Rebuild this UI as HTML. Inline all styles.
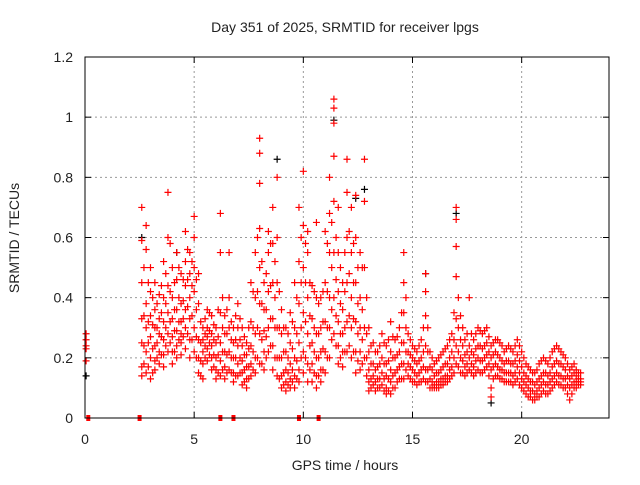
<!DOCTYPE html>
<html><head><meta charset="utf-8"><style>
body{margin:0;background:#fff}
svg text{font-family:"Liberation Sans",sans-serif;fill:#222}
</style></head><body>
<svg width="640" height="480">
<rect width="640" height="480" fill="#fff"/>
<text x="345" y="32" font-size="14" text-anchor="middle">Day 351 of 2025, SRMTID for receiver lpgs</text>
<text transform="translate(19,238) rotate(-90)" font-size="14" text-anchor="middle">SRMTID / TECUs</text>
<text x="345" y="470" font-size="14" text-anchor="middle">GPS time / hours</text>
<g id="grid"></g>
<g id="blk"></g>
<g id="red"></g>
<g id="zeros"></g>
<rect x="85" y="57" width="524" height="361" fill="none" stroke="#000" stroke-width="1"/>
<g id="axes"></g>
</svg>
<script>
const xTicks=[0,5,10,15,20];
const yTicks=[0,0.2,0.4,0.6,0.8,1,1.2];
const yTickLabels=["0","0.2","0.4","0.6","0.8","1","1.2"];
const times=[0.05,2.6,2.8,3.0,3.2,3.4,3.6,3.8,4.0,4.2,4.4,4.6,4.8,5.0,5.2,5.4,5.6,5.8,6.0,6.2,6.4,6.6,6.8,7.0,7.2,7.4,7.6,7.8,8.0,8.2,8.4,8.6,8.8,9.0,9.2,9.4,9.6,9.8,10.0,10.2,10.4,10.6,10.8,11.0,11.2,11.4,11.6,11.8,12.0,12.2,12.4,12.6,12.8,13.0,13.2,13.4,13.6,13.8,14.0,14.2,14.4,14.6,14.8,15.0,15.2,15.4,15.6,15.8,16.0,16.2,16.4,16.6,16.8,17.0,17.2,17.4,17.6,17.8,18.0,18.2,18.4,18.6,18.8,19.0,19.2,19.4,19.6,19.8,20.0,20.2,20.4,20.6,20.8,21.0,21.2,21.4,21.6,21.8,22.0,22.2,22.4,22.6];
const values=[[0.28,0.26,0.24,0.23,0.19],[0.70,0.59,0.45,0.33,0.25,0.17,0.14],[0.64,0.56,0.38,0.30,0.22,0.15],[0.50,0.42,0.34,0.27,0.20,0.13],[0.45,0.36,0.30,0.24,0.19,0.16],[0.41,0.33,0.28,0.22,0.18],[0.52,0.40,0.32,0.26,0.21,0.17],[0.75,0.60,0.44,0.35,0.28,0.22],[0.50,0.40,0.33,0.27,0.22,0.18],[0.55,0.46,0.36,0.29,0.24,0.20],[0.48,0.38,0.32,0.28,0.25,0.21],[0.62,0.52,0.44,0.36,0.30,0.23],[0.55,0.48,0.40,0.33,0.26,0.20],[0.67,0.60,0.50,0.42,0.30,0.22],[0.48,0.38,0.26,0.20,0.15],[0.30,0.26,0.22,0.18,0.13],[0.36,0.30,0.27,0.23,0.19],[0.34,0.28,0.24,0.20,0.16],[0.30,0.25,0.20,0.16,0.13],[0.68,0.55,0.35,0.25,0.19,0.14],[0.34,0.28,0.22,0.17,0.13],[0.55,0.40,0.30,0.22,0.16],[0.30,0.25,0.20,0.15,0.12],[0.38,0.30,0.24,0.18,0.14],[0.30,0.24,0.19,0.15,0.11],[0.25,0.21,0.17,0.13,0.10],[0.45,0.32,0.24,0.18,0.14],[0.55,0.40,0.28,0.20,0.15],[0.93,0.88,0.78,0.63,0.50,0.38,0.28,0.18],[0.45,0.36,0.29,0.22,0.16],[0.62,0.55,0.42,0.30,0.22],[0.70,0.58,0.45,0.33,0.24,0.16],[0.80,0.60,0.45,0.30,0.20,0.14],[0.36,0.28,0.20,0.14,0.10],[0.30,0.22,0.16,0.12,0.09],[0.35,0.25,0.18,0.13,0.10],[0.45,0.30,0.20,0.14,0.10],[0.70,0.52,0.38,0.25,0.16,0.12],[0.82,0.64,0.50,0.35,0.22,0.15],[0.62,0.55,0.40,0.28,0.18,0.12],[0.44,0.33,0.25,0.18,0.12],[0.65,0.40,0.28,0.20,0.14,0.10],[0.40,0.30,0.22,0.16,0.12],[0.62,0.45,0.32,0.22,0.15],[0.80,0.68,0.55,0.40,0.30,0.20],[1.06,1.03,0.98,0.87,0.72,0.55,0.40,0.28],[0.70,0.55,0.42,0.32,0.24,0.18],[0.45,0.36,0.28,0.22,0.17],[0.86,0.75,0.60,0.45,0.32,0.22],[0.70,0.55,0.40,0.30,0.20],[0.74,0.60,0.45,0.32,0.22,0.15],[0.55,0.40,0.30,0.22,0.16],[0.86,0.72,0.50,0.30,0.20],[0.30,0.22,0.16,0.12,0.09],[0.25,0.18,0.14,0.11],[0.22,0.17,0.13,0.10],[0.28,0.20,0.15,0.11],[0.24,0.18,0.14,0.10,0.08],[0.32,0.22,0.16,0.12,0.08],[0.26,0.20,0.15,0.10],[0.30,0.22,0.17,0.13],[0.55,0.45,0.35,0.25,0.18,0.13],[0.28,0.22,0.18,0.14],[0.24,0.20,0.16,0.12],[0.22,0.18,0.14,0.11],[0.26,0.20,0.16,0.12],[0.48,0.42,0.34,0.24,0.16,0.12],[0.22,0.17,0.13,0.10],[0.18,0.14,0.11,0.10],[0.20,0.15,0.12,0.10],[0.22,0.17,0.13,0.11],[0.24,0.18,0.14,0.12],[0.28,0.22,0.17,0.14],[0.70,0.66,0.57,0.47,0.33,0.24,0.18],[0.34,0.26,0.20,0.15],[0.26,0.21,0.17,0.14],[0.40,0.24,0.20,0.16],[0.26,0.21,0.17,0.14],[0.30,0.24,0.20,0.16],[0.28,0.23,0.19,0.15],[0.30,0.25,0.21,0.17],[0.24,0.20,0.16,0.10,0.07],[0.26,0.22,0.18,0.14],[0.25,0.20,0.16,0.13],[0.22,0.18,0.15,0.12],[0.24,0.19,0.15,0.12],[0.22,0.18,0.14,0.11],[0.26,0.21,0.17,0.13],[0.22,0.17,0.13,0.10],[0.18,0.14,0.11,0.08],[0.16,0.12,0.09,0.07],[0.15,0.11,0.08,0.06],[0.18,0.13,0.10,0.07],[0.20,0.15,0.12,0.09],[0.18,0.14,0.11,0.08],[0.22,0.17,0.13,0.10],[0.24,0.19,0.15,0.12],[0.22,0.18,0.14,0.11],[0.20,0.16,0.13,0.10],[0.16,0.13,0.10,0.06],[0.18,0.15,0.12,0.10],[0.15,0.13,0.12,0.11]];
const times2=[2.7,2.9,3.1,3.3,3.5,3.7,3.9,4.1,4.3,4.5,4.7,4.9,5.1,5.3,5.5,5.7,5.9,6.1,6.3,6.5,6.7,6.9,7.1,7.3,7.5,7.7,7.9,8.1,8.3,8.5,8.7,8.9,9.1,9.3,9.5,9.7,9.9,10.1,10.3,10.5,10.7,10.9,11.1,11.3,11.5,11.7,11.9,12.1,12.3,12.5,12.7,12.9,13.1,13.3,13.5,13.7,13.9,14.1,14.3,14.5,14.7,14.9,15.1,15.3,15.5,15.7,15.9,16.1,16.3,16.5,16.7,16.9,17.1,17.3,17.5,17.7,17.9,18.1,18.3,18.5,18.7,18.9,19.1,19.3,19.5,19.7,19.9,20.1,20.3,20.5,20.7,20.9,21.1,21.3,21.5,21.7,21.9,22.1,22.3,22.5,22.7];
const values2=[[0.50,0.34,0.24,0.18],[0.45,0.32,0.25,0.17],[0.40,0.31,0.23,0.15],[0.38,0.30,0.25,0.20],[0.44,0.35,0.27,0.21],[0.48,0.38,0.30,0.24],[0.58,0.42,0.32,0.25],[0.45,0.36,0.29,0.22],[0.50,0.40,0.32,0.26],[0.46,0.39,0.33,0.27],[0.56,0.46,0.37,0.28],[0.52,0.44,0.34,0.26],[0.46,0.36,0.27,0.20],[0.32,0.25,0.19,0.14],[0.33,0.28,0.24,0.20],[0.35,0.29,0.25,0.21],[0.31,0.26,0.21,0.17],[0.36,0.27,0.21,0.15],[0.40,0.30,0.22,0.16],[0.36,0.28,0.21,0.15],[0.32,0.26,0.20,0.15],[0.34,0.26,0.20,0.14],[0.33,0.26,0.20,0.15],[0.27,0.21,0.16,0.12],[0.30,0.23,0.17,0.13],[0.42,0.30,0.22,0.16],[0.60,0.42,0.30,0.20],[0.52,0.38,0.26,0.18],[0.48,0.36,0.27,0.20],[0.58,0.44,0.33,0.24],[0.52,0.40,0.30,0.20],[0.42,0.30,0.20,0.13],[0.30,0.22,0.15,0.11],[0.28,0.20,0.15,0.11],[0.32,0.23,0.16,0.12],[0.40,0.28,0.19,0.13],[0.60,0.45,0.30,0.20],[0.58,0.45,0.32,0.20],[0.45,0.34,0.24,0.16],[0.42,0.30,0.22,0.15],[0.38,0.28,0.20,0.14],[0.42,0.32,0.23,0.16],[0.58,0.42,0.30,0.20],[0.65,0.50,0.36,0.26],[0.60,0.46,0.34,0.24],[0.50,0.38,0.28,0.20],[0.55,0.42,0.30,0.22],[0.62,0.48,0.34,0.24],[0.58,0.45,0.33,0.22],[0.50,0.38,0.28,0.19],[0.50,0.36,0.26,0.18],[0.40,0.28,0.20,0.14],[0.24,0.18,0.13,0.10],[0.22,0.16,0.12,0.09],[0.24,0.18,0.13,0.10],[0.25,0.18,0.13,0.09],[0.26,0.19,0.13,0.09],[0.27,0.20,0.14,0.10],[0.27,0.21,0.16,0.12],[0.35,0.25,0.18,0.13],[0.40,0.30,0.22,0.16],[0.26,0.21,0.17,0.13],[0.23,0.19,0.15,0.12],[0.24,0.19,0.15,0.12],[0.30,0.22,0.17,0.13],[0.30,0.22,0.16,0.12],[0.20,0.16,0.12,0.10],[0.19,0.15,0.12,0.10],[0.21,0.16,0.13,0.11],[0.23,0.18,0.14,0.12],[0.26,0.20,0.16,0.13],[0.35,0.26,0.20,0.15],[0.40,0.30,0.22,0.17],[0.30,0.24,0.19,0.15],[0.28,0.22,0.18,0.15],[0.28,0.22,0.18,0.15],[0.28,0.23,0.19,0.15],[0.29,0.24,0.19,0.15],[0.29,0.24,0.20,0.16],[0.27,0.22,0.18,0.14],[0.25,0.21,0.17,0.13],[0.26,0.21,0.17,0.14],[0.24,0.19,0.16,0.13],[0.23,0.19,0.15,0.12],[0.23,0.18,0.15,0.12],[0.24,0.19,0.15,0.12],[0.24,0.19,0.15,0.11],[0.20,0.15,0.12,0.09],[0.17,0.13,0.10,0.07],[0.15,0.12,0.09,0.06],[0.16,0.12,0.09,0.07],[0.19,0.14,0.11,0.08],[0.19,0.15,0.11,0.08],[0.20,0.15,0.12,0.09],[0.23,0.18,0.14,0.11],[0.23,0.18,0.14,0.11],[0.21,0.17,0.13,0.10],[0.18,0.14,0.11,0.08],[0.17,0.14,0.11,0.08],[0.16,0.14,0.12,0.10],[0.15,0.13,0.12,0.11]];
const blackTimes=[0.05,2.6,4.2,8.8,11.4,12.4,12.8,15.6,17.0,18.6];
const blackValues=[0.14,0.60,0.55,0.86,0.99,0.73,0.76,0.48,0.68,0.05];
const zeroTimes=[0.15,2.5,6.2,6.8,9.8,10.7];
const X0=85,X1=609,Y0=418,Y1=57,XMAX=24,YMAX=1.2;
const sx=t=>X0+(X1-X0)*t/XMAX, sy=v=>Y0-(Y0-Y1)*v/YMAX;
const NS="http://www.w3.org/2000/svg";
function mk(tag,attrs,parent){const e=document.createElementNS(NS,tag);for(const k in attrs)e.setAttribute(k,attrs[k]);parent.appendChild(e);return e;}
const grid=document.getElementById('grid'),axes=document.getElementById('axes');
yTicks.forEach((v,i)=>{const y=sy(v);
 if(v>0&&v<YMAX){const l=mk('line',{x1:X0,x2:X1,y1:y,y2:y,stroke:'#999','stroke-dasharray':'2,3'},grid);
 
 }
 mk('line',{x1:X0,x2:X0+6,y1:y,y2:y,stroke:'#000'},axes);
 mk('line',{x1:X1,x2:X1-6,y1:y,y2:y,stroke:'#000'},axes);
 const t=mk('text',{x:X0-12,y:y+5,'font-size':14,'text-anchor':'end'},axes);t.textContent=yTickLabels[i];
 
 });
xTicks.forEach(v=>{const x=sx(v);
 if(v>0){const l=mk('line',{x1:x,x2:x,y1:Y0,y2:Y1,stroke:'#999','stroke-dasharray':'2,3'},grid);
 
 }
 mk('line',{x1:x,x2:x,y1:Y0,y2:Y0-6,stroke:'#000'},axes);
 mk('line',{x1:x,x2:x,y1:Y1,y2:Y1+6,stroke:'#000'},axes);
 const t=mk('text',{x:x,y:Y0+26,'font-size':14,'text-anchor':'middle'},axes);t.textContent=String(v);
 
 });
function plus(g,t,v,c){const x=sx(t),y=sy(v);
 const p=mk('path',{d:`M${x-3.5},${y}h7M${x},${y-3.5}v7`,stroke:c,'stroke-width':1.2,fill:'none'},g);
 
 }
const blk=document.getElementById('blk'),red=document.getElementById('red');
blackTimes.forEach((t,i)=>plus(blk,t,blackValues[i],'#000'));
times.forEach((t,i)=>values[i].forEach(v=>plus(red,t,v,'#f00')));
times2.forEach((t,i)=>values2[i].forEach(v=>plus(red,t,v,'#f00')));
const zg=document.getElementById('zeros');
zeroTimes.forEach(t=>{const r=mk('rect',{x:sx(t)-2,y:Y0-3,width:4,height:6,fill:'#f00'},zg);
 
 });
</script>
</body></html>
